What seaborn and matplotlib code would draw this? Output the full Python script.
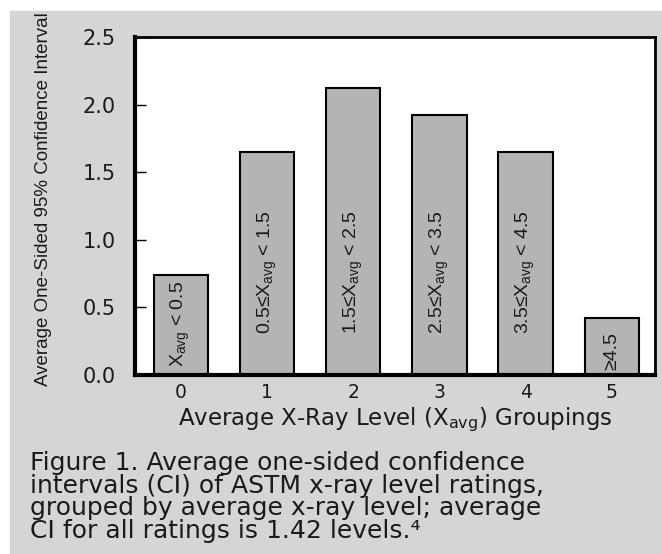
import pandas as pd
import numpy as np
import matplotlib.pyplot as plt
import matplotlib.patches as mpatches
import seaborn as sns

# values
groups = ["0", "1", "2", "3", "4", "5"]
avg_ci = [0.74, 1.65, 2.12, 1.92, 1.65, 0.42]
bar_labels = ["X$_{avg}$ < 0.5", "0.5≤X$_{avg}$ < 1.5", "1.5≤X$_{avg}$ < 2.5",
              "2.5≤X$_{avg}$ < 3.5", "3.5≤X$_{avg}$ < 4.5", "≥4.5"]
label_base = [0.06, 0.3, 0.3, 0.3, 0.3, 0.04]
caption = ("Figure 1. Average one-sided confidence\n"
           "intervals (CI) of ASTM x-ray level ratings,\n"
           "grouped by average x-ray level; average\n"
           "CI for all ratings is 1.42 levels.⁴")

df = pd.DataFrame({"group": groups, "ci": avg_ci})

sns.set_style("white")
plt.rcParams['font.family'] = ['DejaVu Sans']
plt.rcParams['mathtext.default'] = 'regular'
narrow = ['Liberation Sans Narrow', 'Liberation Sans', 'DejaVu Sans']
bg = '#d4d5d7'
ink = '#1a1a1a'

fig = plt.figure(figsize=(6.62, 5.54), dpi=100, facecolor='white')
fig.patches.append(mpatches.Rectangle((10 / 662, 0), 1, 1 - 11 / 554,
                                      transform=fig.transFigure, color=bg, zorder=-10))
ax = fig.add_axes([135 / 662, 1 - 375 / 554, 520 / 662, 338 / 554])
ax.set_facecolor('white')

sns.barplot(data=df, x="group", y="ci", order=groups, color='#b4b4b4',
            edgecolor='black', linewidth=1.5, width=0.63, saturation=1, ax=ax)

for i, (lab, base) in enumerate(zip(bar_labels, label_base)):
    ax.text(i, base, lab, rotation=90, ha='center', va='bottom',
            fontsize=14, family=narrow, color=ink)

ax.set_ylim(0, 2.5)
ax.set_xlim(-0.53, 5.5)
ax.set_yticks([0, 0.5, 1.0, 1.5, 2.0, 2.5])
ax.set_yticklabels(["0.0", "0.5", "1.0", "1.5", "2.0", "2.5"])
ax.tick_params(axis='y', direction='in', length=8, width=1, labelsize=15, pad=14,
               left=True, colors='black')
ax.tick_params(axis='x', length=0, labelsize=13.5, pad=6)
for lab in ax.get_yticklabels() + ax.get_xticklabels():
    lab.set_color(ink)

for side in ['left', 'bottom']:
    ax.spines[side].set_linewidth(3)
for side in ['top', 'right']:
    ax.spines[side].set_linewidth(2)
for s in ax.spines.values():
    s.set_color('black')

ax.set_xlabel("Average X-Ray Level (X$_{avg}$) Groupings", fontsize=16.5,
              color=ink, labelpad=2)
ax.set_ylabel("")
fig.text(44 / 662, 1 - 199 / 554, "Average One-Sided 95% Confidence Interval",
         rotation=90, ha='center', va='center', fontsize=13.5, family=narrow,
         color=ink)

fig.text(30 / 662, 1 - 538 / 554, caption, ha='left', va='baseline',
         fontsize=18, linespacing=0.93, color=ink)

plt.savefig("out.png", dpi=100, facecolor=fig.get_facecolor())
